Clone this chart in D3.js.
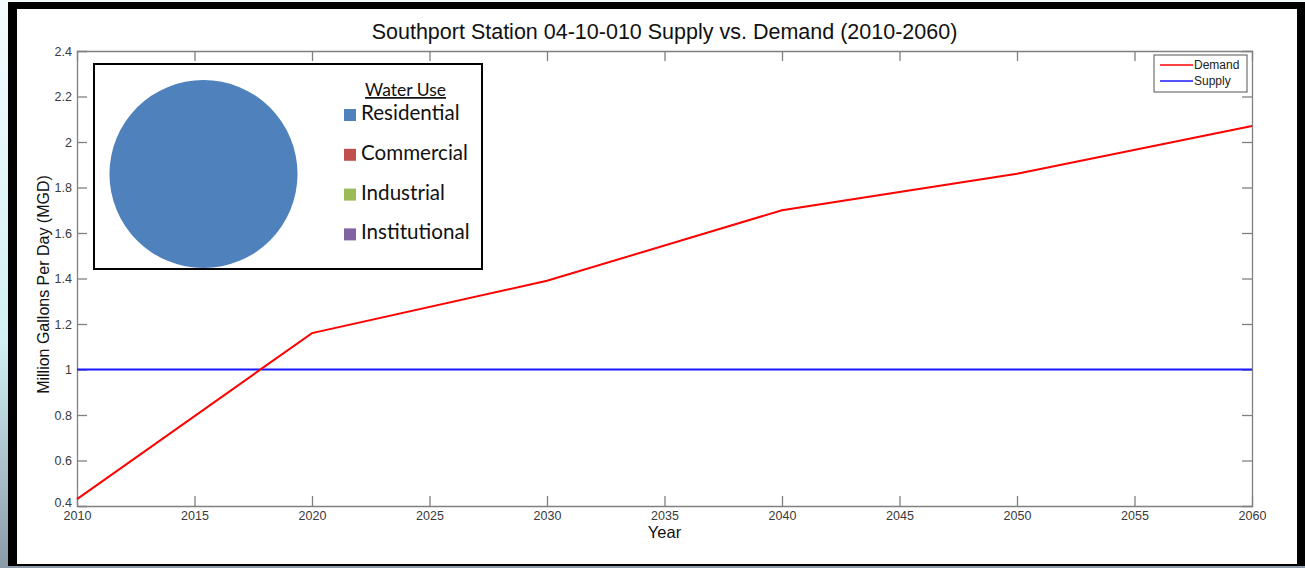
<!DOCTYPE html>
<html>
<head>
<meta charset="utf-8">
<script src="https://cdn.jsdelivr.net/npm/d3@7/dist/d3.min.js"></script>
<style>
  html, body { margin: 0; padding: 0; background: #fff; }
  svg { display: block; }
</style>
</head>
<body>
<svg id="chart" width="1305" height="568"></svg>
<script>
// Demand / supply series (MGD)
const years = [2010, 2020, 2030, 2040, 2050, 2060];
const demand = [0.43, 1.16, 1.39, 1.70, 1.86, 2.07];
const supplyYears = [2010, 2060];
const supply = [1.0, 1.0];
const xTicks = [2010, 2015, 2020, 2025, 2030, 2035, 2040, 2045, 2050, 2055, 2060];
const yTicks = [0.4, 0.6, 0.8, 1, 1.2, 1.4, 1.6, 1.8, 2, 2.2, 2.4];

// Water use breakdown (inset pie)
const useCategories = ['Residential', 'Commercial', 'Industrial', 'Institutional'];
const useShares = [100, 0, 0, 0];
const useColors = ['#4f81bd', '#c0504d', '#9bbb59', '#8064a2'];

const svg = d3.select('#chart');

// slide background + frame
const grad = svg.append('defs').append('linearGradient')
  .attr('id', 'bg').attr('x1', 0).attr('y1', 0).attr('x2', 0).attr('y2', 1);
grad.append('stop').attr('offset', '0%').attr('stop-color', '#f4fbfd');
grad.append('stop').attr('offset', '60%').attr('stop-color', '#d2f0f6');
grad.append('stop').attr('offset', '100%').attr('stop-color', '#8a9aa8');
svg.append('rect').attr('width', 1305).attr('height', 568).attr('fill', 'url(#bg)');
svg.append('rect').attr('x', 8).attr('y', 2).attr('width', 1297).attr('height', 564).attr('fill', '#000');
svg.append('rect').attr('x', 17).attr('y', 9).attr('width', 1280).attr('height', 555).attr('fill', '#fff');

const mLeft = 77, mRight = 1252, mTop = 51, mBottom = 506;
const x = d3.scaleLinear().domain([2010, 2060]).range([mLeft, mRight]);
const y = d3.scaleLinear().domain([0.4, 2.4]).range([mBottom, mTop]);

const axisColor = '#808080';
const tickLen = 10;

// axes box with inward ticks
const fmtY = d => String(+d.toFixed(1));
const gx = svg.append('g').attr('transform', `translate(0,${mBottom})`)
  .call(d3.axisBottom(x).tickValues(xTicks).tickFormat(d3.format('d')).tickSize(-tickLen).tickPadding(5));
const gxTop = svg.append('g').attr('transform', `translate(0,${mTop})`)
  .call(d3.axisTop(x).tickValues(xTicks).tickFormat('').tickSize(-tickLen));
const gy = svg.append('g').attr('transform', `translate(${mLeft},0)`)
  .call(d3.axisLeft(y).tickValues(yTicks).tickFormat(fmtY).tickSize(-tickLen).tickPadding(5));
const gyRight = svg.append('g').attr('transform', `translate(${mRight},0)`)
  .call(d3.axisRight(y).tickValues(yTicks).tickFormat('').tickSize(-tickLen));

[gx, gxTop, gy, gyRight].forEach(g => {
  g.select('.domain').attr('stroke', axisColor).attr('stroke-width', 1.3);
  g.selectAll('.tick line').attr('stroke', axisColor).attr('stroke-width', 1.3);
  g.selectAll('.tick text').attr('fill', '#3a3a3a').attr('font-family', 'Liberation Sans, Arial, sans-serif').attr('font-size', 12.5);
});
// end ticks are hidden by the box edges in the original
gx.selectAll('.tick').filter(d => d === 2010 || d === 2060).select('line').remove();
gxTop.selectAll('.tick').filter(d => d === 2010 || d === 2060).select('line').remove();
gy.selectAll('.tick').filter(d => d === 0.4 || d === 2.4).select('line').remove();
gyRight.selectAll('.tick').filter(d => d === 0.4 || d === 2.4).select('line').remove();
gy.selectAll('.tick text').filter(d => d === 0.4).attr('dy', '0.05em');

// lines
const line = d3.line().x(d => x(d[0])).y(d => y(d[1]));
svg.append('path').datum(supplyYears.map((yr, i) => [yr, supply[i]]))
  .attr('d', line).attr('fill', 'none').attr('stroke', '#1a1aff').attr('stroke-width', 1.8);
svg.append('path').datum(years.map((yr, i) => [yr, demand[i]]))
  .attr('d', line).attr('fill', 'none').attr('stroke', '#ff0000').attr('stroke-width', 2);

// titles
const arial = 'Liberation Sans, Arial, sans-serif';
svg.append('text').attr('x', (mLeft + mRight) / 2).attr('y', 39).attr('text-anchor', 'middle')
  .attr('font-family', arial).attr('font-size', 21.5).attr('fill', '#111')
  .text('Southport Station 04-10-010 Supply vs. Demand (2010-2060)');
svg.append('text').attr('x', (mLeft + mRight) / 2).attr('y', 538).attr('text-anchor', 'middle')
  .attr('font-family', arial).attr('font-size', 16.5).attr('fill', '#111').text('Year');
svg.append('text').attr('transform', `translate(49,${(mTop + mBottom) / 2 + 6}) rotate(-90)`)
  .attr('text-anchor', 'middle').attr('font-family', arial).attr('font-size', 16).attr('fill', '#111')
  .text('Million Gallons Per Day (MGD)');

// legend (top right)
const lg = svg.append('g').attr('transform', 'translate(1154,55)');
lg.append('rect').attr('width', 93).attr('height', 37).attr('fill', '#fff').attr('stroke', '#555').attr('stroke-width', 1);
[['Demand', '#ff0000'], ['Supply', '#1a1aff']].forEach(([name, col], i) => {
  const yy = 10 + i * 16;
  lg.append('line').attr('x1', 6).attr('x2', 39).attr('y1', yy).attr('y2', yy).attr('stroke', col).attr('stroke-width', 1.3);
  lg.append('text').attr('x', 40).attr('y', yy + 4).attr('font-family', arial).attr('font-size', 12)
    .attr('fill', '#222').text(name);
});

// inset: water use pie
const inset = svg.append('g').attr('transform', 'translate(94,64)');
inset.append('rect').attr('width', 388).attr('height', 205).attr('fill', '#fff')
  .attr('stroke', '#000').attr('stroke-width', 2);
const pie = d3.pie().sort(null).value(d => d)(useShares);
const arc = d3.arc().innerRadius(0).outerRadius(94);
inset.append('g').attr('transform', 'translate(109.5,110)')
  .selectAll('path').data(pie).enter().append('path')
  .attr('d', arc).attr('fill', (d, i) => useColors[i]);

const calibri = 'Lato, Carlito, Calibri, sans-serif';
inset.append('text').attr('x', 311.5).attr('y', 32).attr('text-anchor', 'middle')
  .attr('font-family', calibri).attr('font-size', 17.5).attr('fill', '#111')
  .attr('text-decoration', 'underline').text('Water Use');
const item = inset.selectAll('g.item').data(useCategories).enter().append('g')
  .attr('class', 'item').attr('transform', (d, i) => `translate(250,${56 + i * 39.8})`);
item.append('rect').attr('x', 0).attr('y', -11).attr('width', 12).attr('height', 12)
  .attr('fill', (d, i) => useColors[i]);
item.append('text').attr('x', 17).attr('y', 0).attr('font-family', calibri).attr('font-size', 20.6)
  .attr('fill', '#111').text(d => d);
</script>
</body>
</html>
